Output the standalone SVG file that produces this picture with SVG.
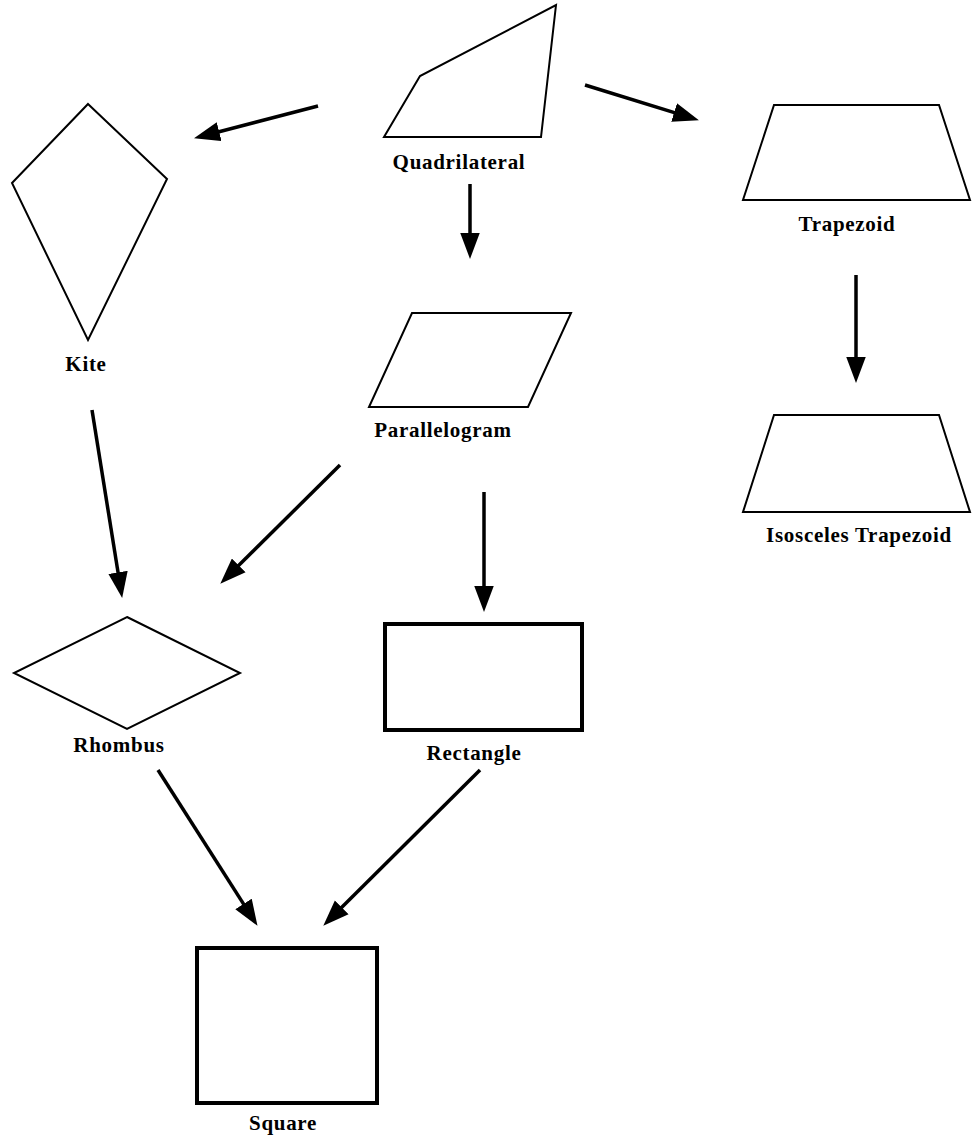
<svg xmlns="http://www.w3.org/2000/svg" width="972" height="1143" viewBox="0 0 972 1143">
<style>
.shape{fill:#fff;stroke:#000;stroke-width:2;stroke-linejoin:miter}
.thick{fill:#fff;stroke:#000;stroke-width:4}
.lbl{font-family:"Liberation Serif","Times New Roman",serif;font-weight:bold;font-size:21px;letter-spacing:0.7px;fill:#000;text-anchor:middle}
.arrow{stroke:#000;stroke-width:3.5;fill:none;marker-end:url(#ah)}
</style>
<defs>
<marker id="ah" markerUnits="userSpaceOnUse" markerWidth="26" markerHeight="20" viewBox="0 0 24 18" refX="12" refY="9" orient="auto">
<path d="M0,0 L24,9 L0,18 Z" fill="#000"/>
</marker>
</defs>
<rect width="972" height="1143" fill="#fff"/>
<g id="quadrilateral">
<polygon class="shape" points="384,137 420,76 556,5 541,137"/>
<text class="lbl" x="459" y="169">Quadrilateral</text>
</g>
<g id="kite">
<polygon class="shape" points="88,104 167,179 88,340 12,183"/>
<text class="lbl" x="86" y="371">Kite</text>
</g>
<g id="trapezoid">
<polygon class="shape" points="774,105 939,105 970,200 743,200"/>
<text class="lbl" x="847" y="231">Trapezoid</text>
</g>
<g id="isosceles-trapezoid">
<polygon class="shape" points="774,415 939,415 970,512 743,512"/>
<text class="lbl" x="859" y="542">Isosceles Trapezoid</text>
</g>
<g id="parallelogram">
<polygon class="shape" points="412,313 571,313 528,407 369,407"/>
<text class="lbl" x="443" y="437">Parallelogram</text>
</g>
<g id="rhombus">
<polygon class="shape" points="127,617 240,673 127,729 14,673"/>
<text class="lbl" x="119" y="752">Rhombus</text>
</g>
<g id="rectangle">
<rect class="thick" x="385" y="624" width="197" height="106"/>
<text class="lbl" x="474" y="760">Rectangle</text>
</g>
<g id="square">
<rect class="thick" x="197" y="948" width="180" height="155"/>
<text class="lbl" x="283" y="1130">Square</text>
</g>
<g id="connectors">
<line class="arrow" x1="318" y1="106" x2="206.6" y2="135"/>
<line class="arrow" x1="585" y1="85" x2="686.5" y2="116.4"/>
<line class="arrow" x1="470" y1="184" x2="470" y2="246"/>
<line class="arrow" x1="856" y1="275" x2="856" y2="370"/>
<line class="arrow" x1="92" y1="410" x2="120.1" y2="585.2"/>
<line class="arrow" x1="340" y1="465" x2="229.5" y2="574.6"/>
<line class="arrow" x1="484" y1="492" x2="484" y2="599"/>
<line class="arrow" x1="158" y1="770" x2="250.5" y2="914.9"/>
<line class="arrow" x1="480" y1="770" x2="332.5" y2="916.5"/>
</g>
</svg>
